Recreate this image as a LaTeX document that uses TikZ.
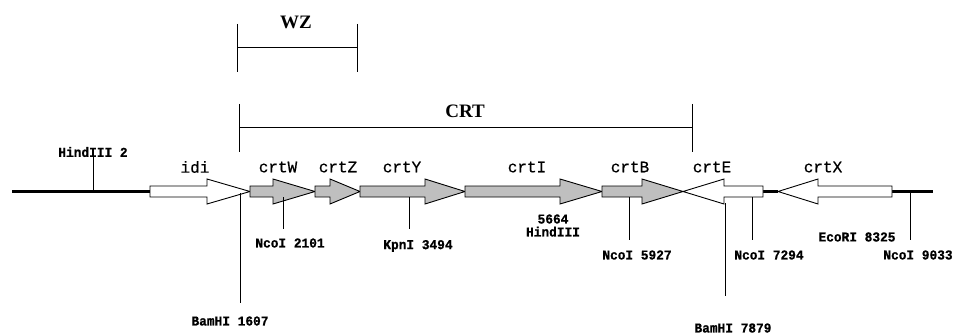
\documentclass[tikz,border=0pt]{standalone}
\usepackage{fontspec}
\newfontfamily\genefont{Liberation Mono}[FakeBold=0.6]
\newfontfamily\siteface{Liberation Mono}[FakeStretch=0.95, BoldFeatures={FakeBold=0.8}]
\newfontfamily\brfont{Liberation Serif}
\tikzset{
  backbone/.style={line width=2.2pt},
  genebox/.style={draw, line width=0.9pt, line join=miter},
  sitetick/.style={line width=1pt},
  bracket/.style={line width=1pt},
  genelabel/.style={font=\genefont\fontsize{16}{17}\selectfont, inner sep=0pt},
  sitelabel/.style={font=\siteface\bfseries\fontsize{13.5}{14}\selectfont, inner sep=0pt, align=center},
  regionlabel/.style={font=\brfont\bfseries\fontsize{19}{20}\selectfont, inner sep=0pt}
}
% forward gene: start, head base, tip, fill colour
\newcommand{\fwdgene}[4]{%
  \draw[genebox, fill=#4] (#1,186) -- (#2,186) -- (#2,179) -- (#3,191.5)
    -- (#2,204) -- (#2,197) -- (#1,197) -- cycle;}
% reverse gene: tip, head base, end, fill colour
\newcommand{\revgene}[4]{%
  \draw[genebox, fill=#4] (#1,191.5) -- (#2,179) -- (#2,186) -- (#3,186)
    -- (#3,197) -- (#2,197) -- (#2,204) -- cycle;}
\begin{document}
\begin{tikzpicture}[x=1pt, y=-1pt]
\useasboundingbox (0,0) rectangle (955,334);

% backbone segments between the genes
\coordinate (bbL) at (12,191.5);
\coordinate (idiS) at (150,191.5);
\coordinate (eEnd) at (763,191.5);
\coordinate (xTip) at (778,191.5);
\coordinate (xEnd) at (892,191.5);
\coordinate (bbR) at (933,191.5);
\draw[backbone] (bbL) -- (idiS);
\draw[backbone] (eEnd) -- (xTip);
\draw[backbone] (xEnd) -- (bbR);

% genes
\fwdgene{150}{207}{250}{white}
\fwdgene{250}{273}{315}{gray!50}
\fwdgene{315}{330}{360}{gray!50}
\fwdgene{360}{425}{465}{gray!50}
\fwdgene{465}{560}{602}{gray!50}
\fwdgene{602}{642}{683}{gray!50}
\revgene{683}{724}{763}{white}
\revgene{778}{818}{892}{white}

% gene names
\node[genelabel] (idi)  at (195,167) {idi};
\node[genelabel] (crtW) at (278,167) {crtW};
\node[genelabel] (crtZ) at (338,167) {crtZ};
\node[genelabel] (crtY) at (402,167) {crtY};
\node[genelabel] (crtI) at (527,167) {crtI};
\node[genelabel] (crtB) at (630,167) {crtB};
\node[genelabel] (crtE) at (712,167) {crtE};
\node[genelabel] (crtX) at (823,167) {crtX};

% restriction sites
\node[sitelabel] (hind2)  at (93,152) {HindIII 2};
\coordinate (hind2a) at (93,155);
\coordinate (hind2b) at (93,191.5);
\draw[sitetick] (hind2a) -- (hind2b);

\node[sitelabel] (bam1607) at (230,321) {BamHI 1607};
\coordinate (bam1607a) at (240,193);
\coordinate (bam1607b) at (240,303);
\draw[sitetick] (bam1607a) -- (bam1607b);

\node[sitelabel] (nco2101) at (290,243) {NcoI 2101};
\coordinate (nco2101a) at (283,197);
\coordinate (nco2101b) at (283,229);
\draw[sitetick] (nco2101a) -- (nco2101b);

\node[sitelabel] (kpn3494) at (418,246) {KpnI 3494};
\coordinate (kpn3494a) at (409,197);
\coordinate (kpn3494b) at (409,229);
\draw[sitetick] (kpn3494a) -- (kpn3494b);

\node[sitelabel] (hind5664) at (553,225.5) {5664\\[-1pt]HindIII};

\node[sitelabel] (nco5927) at (637,255) {NcoI 5927};
\coordinate (nco5927a) at (629,197);
\coordinate (nco5927b) at (629,240);
\draw[sitetick] (nco5927a) -- (nco5927b);

\node[sitelabel] (nco7294) at (769,255) {NcoI 7294};
\coordinate (nco7294a) at (752,197);
\coordinate (nco7294b) at (752,240);
\draw[sitetick] (nco7294a) -- (nco7294b);

\node[sitelabel] (bam7879) at (733,328) {BamHI 7879};
\coordinate (bam7879a) at (725,203);
\coordinate (bam7879b) at (725,296);
\draw[sitetick] (bam7879a) -- (bam7879b);

\node[sitelabel] (eco8325) at (857,237) {EcoRI 8325};

\node[sitelabel] (nco9033) at (918,255) {NcoI 9033};
\coordinate (nco9033a) at (910,191.5);
\coordinate (nco9033b) at (910,240);
\draw[sitetick] (nco9033a) -- (nco9033b);

% WZ region bracket
\coordinate (wzL) at (237,48);
\coordinate (wzR) at (357,48);
\draw[bracket] (wzL) -- (wzR);
\draw[bracket] (237,24) -- (237,72);
\draw[bracket] (357,24) -- (357,72);
\node[regionlabel] (wz) at (296,22) {WZ};

% CRT region bracket
\coordinate (crtL) at (239,128);
\coordinate (crtR) at (692,128);
\draw[bracket] (crtL) -- (crtR);
\draw[bracket] (239,104) -- (239,152);
\draw[bracket] (692,104) -- (692,152);
\node[regionlabel] (crt) at (465,111) {CRT};
\end{tikzpicture}
\end{document}
